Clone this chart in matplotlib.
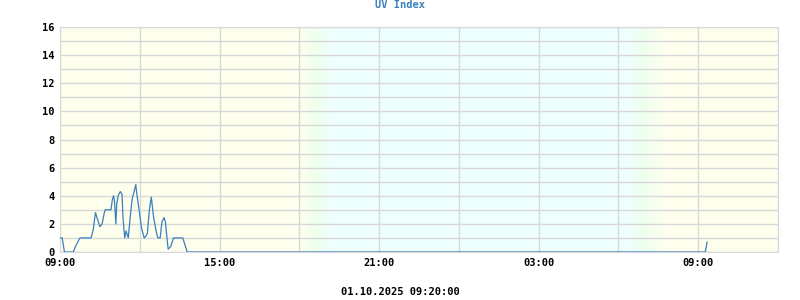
import matplotlib
matplotlib.use("Agg")
import matplotlib.pyplot as plt
import matplotlib.dates as mdates
import numpy as np
import pandas as pd

start = pd.Timestamp("2025-09-30 09:00")
end = pd.Timestamp("2025-10-01 12:00")

# minutes after 09:00 and UV index
minutes = [0, 5, 10, 30, 35, 45, 70, 75, 80, 83, 90, 95, 100, 102, 115, 118,
           121, 123, 126, 128, 131, 136, 140, 142, 146, 149, 154, 160, 163,
           168, 171, 173, 178, 184, 190, 193, 197, 202, 206, 211, 218, 221,
           226, 230, 235, 238, 242, 244, 250, 256, 277, 283, 287, 1456, 1460]
uv = [1.0, 1.0, 0.0, 0.0, 0.4, 1.0, 1.0, 1.6, 2.8, 2.5, 1.8, 2.0, 2.8, 3.0,
      3.0, 3.7, 4.0, 3.6, 2.0, 3.4, 4.0, 4.3, 4.1, 2.5, 1.0, 1.5, 1.0, 3.0,
      3.8, 4.4, 4.8, 4.2, 3.1, 1.7, 1.0, 1.1, 1.3, 3.1, 3.9, 2.5, 1.3, 1.0,
      1.0, 2.15, 2.45, 2.1, 0.8, 0.2, 0.4, 1.0, 1.0, 0.4, 0.0, 0.0, 0.7]
times = [start + pd.Timedelta(minutes=m) for m in minutes]

ytick_vals = [0, 2, 4, 6, 8, 10, 12, 14, 16]
xtick_times = ["2025-09-30 09:00", "2025-09-30 15:00", "2025-09-30 21:00",
               "2025-10-01 03:00", "2025-10-01 09:00"]

font = {"family": "DejaVu Sans Mono", "weight": "bold", "size": 7.5}

fig = plt.figure(figsize=(8, 3), dpi=100)
ax = fig.add_axes([0.075, 0.16, 0.8975, 0.75])

# day / night background gradient
x0 = mdates.date2num(start)
x1 = mdates.date2num(end)
hrs = np.linspace(0, 27, 1000)
day = np.array([255, 255, 238]) / 255
green = np.array([238, 255, 238]) / 255
night = np.array([238, 255, 255]) / 255
cols = []
for h in hrs:
    if h < 9:
        c = day
    elif h < 9.6:
        t = (h - 9) / 0.6
        c = day * (1 - t) + green * t
    elif h < 10.4:
        t = (h - 9.6) / 0.8
        c = green * (1 - t) + night * t
    elif h < 21.3:
        c = night
    elif h < 22.0:
        t = (h - 21.3) / 0.7
        c = night * (1 - t) + green * t
    elif h < 22.8:
        t = (h - 22.0) / 0.8
        c = green * (1 - t) + day * t
    else:
        c = day
    cols.append(c)
bg = np.array(cols)[np.newaxis, :, :]
ax.imshow(bg, extent=[x0, x1, 0, 16], aspect="auto", zorder=0)

ax.plot(times, uv, color="#3a7fc0", linewidth=0.9, zorder=3)

ax.set_xlim(x0, x1)
ax.set_ylim(0, 16)
ax.set_yticks(ytick_vals)
ax.set_yticks(np.arange(0, 17, 1), minor=True)
ax.set_xticks([mdates.date2num(pd.Timestamp(t)) for t in xtick_times])
ax.xaxis.set_minor_locator(mdates.HourLocator(byhour=[0, 3, 6, 9, 12, 15, 18, 21]))
ax.xaxis.set_major_formatter(mdates.DateFormatter("%H:%M"))

ax.grid(True, which="both", color="#d8d8d8", linewidth=1.0, zorder=1)
ax.set_axisbelow(False)
for line in ax.get_xgridlines() + ax.get_ygridlines():
    line.set_zorder(1)
ax.tick_params(which="both", length=0, pad=4)
for lab in ax.get_xticklabels() + ax.get_yticklabels():
    lab.set_fontfamily(font["family"])
    lab.set_fontweight(font["weight"])
    lab.set_fontsize(font["size"])
for s in ax.spines.values():
    s.set_color("#d8d8d8")

fig.text(0.5, 0.983, "UV Index", ha="center", va="center",
         color="#3a7fc0", **font)
fig.text(0.5, 0.027, "01.10.2025 09:20:00", ha="center", va="center", **font)

fig.savefig("out.png", dpi=100)
